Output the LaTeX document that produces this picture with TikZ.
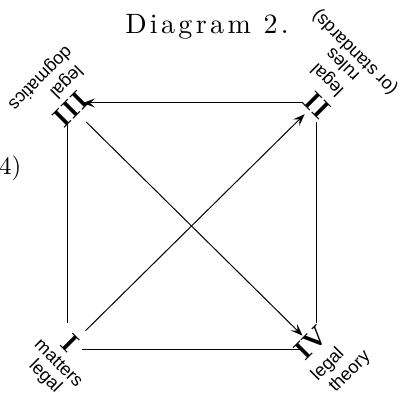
\documentclass[tikz,border=0pt]{standalone}
\usepackage{fontspec}
\newfontfamily\labfont{Liberation Sans}
\newfontfamily\titlefont{lmroman10-regular.otf}[LetterSpace=12]
\newfontfamily\notefont{lmroman10-regular.otf}
\newfontfamily\numfont{lmroman10-bold.otf}
\usetikzlibrary{arrows.meta}
\begin{document}
\begin{tikzpicture}[x=1pt,y=1pt,
  lab/.style={inner sep=0pt,font=\labfont\fontsize{18}{18}\selectfont},
  num/.style={inner sep=0pt,font=\numfont\fontsize{27}{27}\selectfont},
  edge/.style={line width=1pt},
  arr/.style={edge,-{Stealth[length=12pt,width=9pt,inset=5pt]}}]
\useasboundingbox (0,0) rectangle (401,396);
% title and margin note
\node[inner sep=0pt,anchor=base,font=\titlefont\fontsize{28}{28}\selectfont] (title) at (207,362) {Diagram 2.};
\node[inner sep=0pt,anchor=base west,font=\notefont\fontsize{25}{25}\selectfont] (note) at (-1,221) {4)};
% corners of the square
\coordinate (c1) at (67,47);
\coordinate (c2) at (316,293);
\coordinate (c3) at (67,293);
\coordinate (c4) at (316,47);
% numerals
\node[num,rotate=-45] (n1) at (70,53) {I};
\node[num,rotate=135] (n2) at (317,291) {II};
\node[num,rotate=225] (n3) at (71,287) {III};
\node[num,rotate=45] (n4) at (311,53) {IV};
% labels
\node[lab,rotate=-45] (l1a) at (59,33) {matters};
\node[lab,rotate=-45] (l1b) at (45,19) {legal};
\node[lab,rotate=45] (l4a) at (328,31) {legal};
\node[lab,rotate=45] (l4b) at (350,24) {theory};
\node[lab,rotate=225] (l3a) at (66,315) {legal};
\node[lab,rotate=225] (l3b) at (40,318) {dogmatics};
\node[lab,rotate=135] (l2a) at (328,317) {legal};
\node[lab,rotate=135] (l2b) at (342,331) {rules};
\node[lab,rotate=135] (l2c) at (355,344) {(or standards)};
% connectors
\draw[arr,shorten <=13pt,shorten >=16pt] (c2) -- (c3);
\draw[edge,shorten <=20pt,shorten >=26pt] (c3) -- (c1);
\draw[edge,shorten <=19pt,shorten >=26pt] (c2) -- (c4);
\draw[edge,shorten <=15pt,shorten >=14pt] (c1) -- (c4);
\draw[arr,shorten <=26pt,shorten >=16pt] (c1) -- (c2);
\draw[arr,shorten <=27pt,shorten >=19pt] (c3) -- (c4);
\end{tikzpicture}
\end{document}
